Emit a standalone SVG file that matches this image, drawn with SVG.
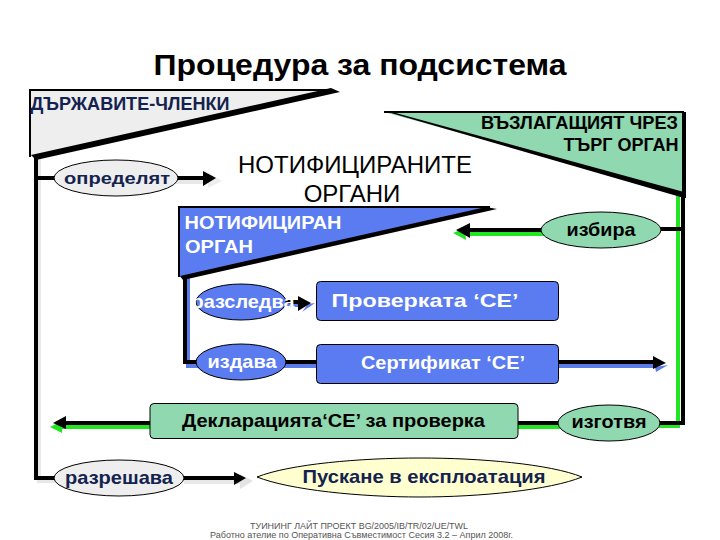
<svg xmlns="http://www.w3.org/2000/svg" width="720" height="540" viewBox="0 0 720 540">
<style>
text{font-family:"Liberation Sans",Arial,sans-serif;font-weight:bold;text-anchor:middle;font-size:19px}
.navy{fill:#14224e}.white{fill:#fff}.blk{fill:#000}
.nodebox{stroke:#000;stroke-width:1}
.g{fill:#90d8b0}.b{fill:#5a7cf0}.e{fill:#eee}
.k{stroke:#000;stroke-width:4;fill:none}
.lg{stroke:#e8e8e8;stroke-width:4;fill:none}
.gr{stroke:#22e622;stroke-width:4;fill:none}
.bl{stroke:#5a7ce8;stroke-width:4;fill:none}
.reg{font-weight:normal}
</style>
<rect width="720" height="540" fill="#fff"/>
<g id="connectors">
<path class="lg" d="M39 157V481H55M57 182H206M184 482H246"/>
<path class="k" d="M36 157V478H56M38 178H56M178 178H206M184 478H238"/>
<polygon class="e" points="208,172 222,181 208,188"/>
<polygon points="203,171 216,178 203,186"/>
<polygon points="237,472 250,479 237,487" fill="#e4e4e4" transform="translate(3,2)"/>
<polygon points="234,472 246,478 234,485"/>
<path class="bl" d="M188 277V366H200M286 305H303M284 366H318M557 366H656"/>
<path class="k" d="M185 277V362H200M282 362H318M557 362H656M285 302H298"/>
<polygon fill="#5a7ce8" points="308,304 315,303 302,312"/>
<polygon points="298,296 311,303 298,311"/>
<polygon fill="#5a7ce8" points="655,367 668,365 656,372"/>
<polygon points="653,356 666,363 653,369"/>
<path class="gr" d="M678 195V426H659M545 234H466M150 427H62M518 427H560"/>
<path class="k" d="M683 195V423H656M683 229H660M541 230H468M150 423H66M518 423H560"/>
<polygon fill="#22e622" points="453,233 465,228 466,240"/>
<polygon points="456,230 470,223 470,238"/>
<polygon fill="#22e622" points="50,427 62,421 62,433"/>
<polygon points="53,423 66,416 66,429"/>
</g>
<text x="360" y="75" style="font-size:29px;fill:#000" textLength="413" lengthAdjust="spacingAndGlyphs">Процедура за подсистема</text>
<g id="node-states">
<polygon points="30,90 335,90 30,156" fill="#eee"/>
<path d="M30 157V90H332" fill="none" stroke="#000" stroke-width="2"/>
<polygon points="31,155 331,88 340,92 36,160"/>
<text x="130" y="110" class="navy" style="font-size:18px" textLength="199" lengthAdjust="spacingAndGlyphs">ДЪРЖАВИТЕ-ЧЛЕНКИ</text>
</g>
<g id="node-determine">
<ellipse cx="116" cy="178" rx="62" ry="18" class="e nodebox"/>
<text x="117" y="184" class="navy" style="font-size:17px" textLength="106" lengthAdjust="spacingAndGlyphs">определят</text>
</g>
<text x="355" y="173" class="reg" style="font-size:24px;fill:#000" textLength="234" lengthAdjust="spacingAndGlyphs">НОТИФИЦИРАНИТЕ</text>
<text x="352" y="202" class="reg" style="font-size:24px;fill:#000">ОРГАНИ</text>
<g id="node-notified">
<polygon points="179,207 490,207 179,277" class="b"/>
<path d="M179 277V207H490" fill="none" stroke="#000" stroke-width="2"/>
<polygon points="180,276 486,207 497,209 183,280"/>
<text x="263" y="229" class="white" textLength="157" lengthAdjust="spacingAndGlyphs">НОТИФИЦИРАН</text>
<text x="219" y="253" class="white" textLength="68" lengthAdjust="spacingAndGlyphs">ОРГАН</text>
</g>
<g id="node-contracting">
<polygon points="384,112 684,112 684,195" class="g"/>
<path d="M384 112H684" fill="none" stroke="#000" stroke-width="2"/>
<polygon points="384,111 392,112 684,192 684,198"/>
<path d="M684 112V198" stroke="#000" stroke-width="4" fill="none"/>
<text x="579.500" y="129" class="blk" style="font-size:18px" textLength="197" lengthAdjust="spacingAndGlyphs">ВЪЗЛАГАЩИЯТ ЧРЕЗ</text>
<text x="621" y="151" class="blk" style="font-size:18px" textLength="115" lengthAdjust="spacingAndGlyphs">ТЪРГ ОРГАН</text>
</g>
<g id="node-choose">
<ellipse cx="601" cy="230" rx="60" ry="18" class="g nodebox"/>
<text x="601" y="236" class="blk" textLength="69" lengthAdjust="spacingAndGlyphs">избира</text>
</g>
<g id="node-investigate">
<ellipse cx="241" cy="302" rx="45" ry="18" class="b nodebox"/>
<text x="243" y="308" class="white" textLength="103" lengthAdjust="spacingAndGlyphs">разследва</text>
</g>
<g id="node-check">
<rect x="316.500" y="281.500" width="242" height="39" rx="4" class="b nodebox"/>
<text x="425" y="307" class="white" textLength="187" lengthAdjust="spacingAndGlyphs">Проверката ‘СЕ’</text>
</g>
<g id="node-issue">
<ellipse cx="241" cy="362" rx="45" ry="18" class="b nodebox"/>
<text x="242" y="368" class="white" textLength="69" lengthAdjust="spacingAndGlyphs">издава</text>
</g>
<g id="node-cert">
<rect x="316.500" y="344.500" width="242" height="39" rx="4" class="b nodebox"/>
<text x="443" y="369" class="white" textLength="164" lengthAdjust="spacingAndGlyphs">Сертификат ‘СЕ’</text>
</g>
<g id="node-declaration">
<rect x="150" y="403.500" width="368" height="35" rx="4" class="g nodebox"/>
<text x="333.500" y="427" class="blk" textLength="303" lengthAdjust="spacingAndGlyphs">Декларацията‘СЕ’ за проверка</text>
</g>
<g id="node-prepare">
<ellipse cx="609" cy="423" rx="51" ry="18" class="g nodebox"/>
<text x="609" y="428" class="blk" textLength="75" lengthAdjust="spacingAndGlyphs">изготвя</text>
</g>
<g id="node-permit">
<ellipse cx="119" cy="478" rx="65" ry="18" class="e nodebox"/>
<text x="119" y="484" class="navy" textLength="108" lengthAdjust="spacingAndGlyphs">разрешава</text>
</g>
<g id="node-commissioning">
<path d="M257 477C290 464 360 458 420 458C480 458 550 464 582 477C550 490 480 497 420 497C360 497 290 490 257 477Z" fill="#ffffd0" stroke="#000"/>
<text x="424" y="483" class="navy" textLength="243" lengthAdjust="spacingAndGlyphs">Пускане в експлоатация</text>
</g>
<text x="359" y="529" class="reg" style="font-size:9px;fill:#555" textLength="218" lengthAdjust="spacingAndGlyphs">ТУИНИНГ ЛАЙТ ПРОЕКТ BG/2005/IB/TR/02/UE/TWL</text>
<text x="361.500" y="538" class="reg" style="font-size:9px;fill:#555" textLength="303" lengthAdjust="spacingAndGlyphs">Работно ателие по Оперативна Съвместимост Сесия 3.2 – Април 2008г.</text>
</svg>
